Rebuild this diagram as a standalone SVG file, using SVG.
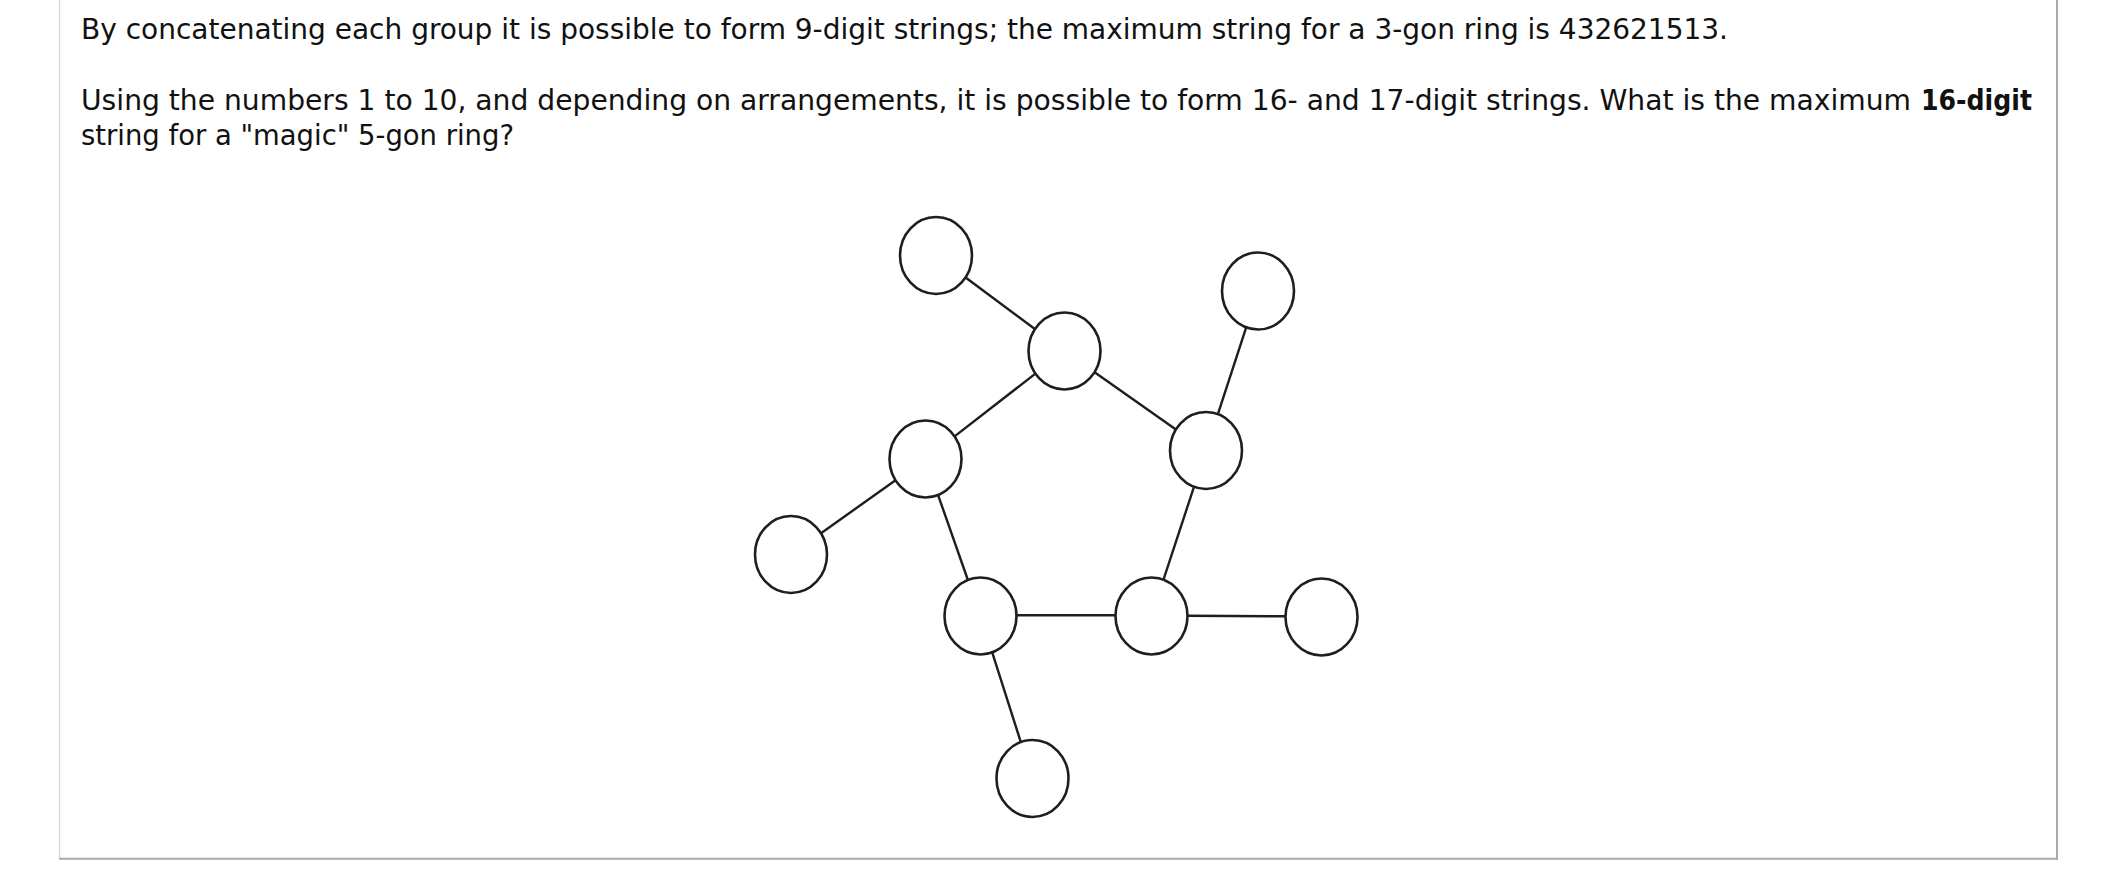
<svg xmlns="http://www.w3.org/2000/svg" width="2102" height="890" viewBox="0 0 2102 890">
<style>
.t{font-family:"DejaVu Sans Condensed","DejaVu Sans",sans-serif;font-stretch:condensed;font-size:28px;fill:#111}
.b{font-weight:bold}
.n{fill:#fff;stroke:#1e1e1e;stroke-width:2.6}
.e{stroke:#1e1e1e;stroke-width:2.4;fill:none;stroke-linecap:round}
</style>
<rect x="0" y="0" width="2102" height="890" fill="#fff"/>
<g id="frame">
<line x1="59.5" y1="0" x2="59.5" y2="858" stroke="#dadada" stroke-width="1.5"/>
<line x1="2057" y1="0" x2="2057" y2="859.8" stroke="#aaa" stroke-width="2"/>
<line x1="59" y1="858.8" x2="2058" y2="858.8" stroke="#aaa" stroke-width="2"/>
</g>
<g id="text">
<text class="t" x="81" y="39" textLength="1647" lengthAdjust="spacingAndGlyphs">By concatenating each group it is possible to form 9-digit strings; the maximum string for a 3-gon ring is 432621513.</text>
<text class="t" x="81" y="110" textLength="1830" lengthAdjust="spacingAndGlyphs">Using the numbers 1 to 10, and depending on arrangements, it is possible to form 16- and 17-digit strings. What is the maximum</text>
<text class="t b" x="1921" y="110" textLength="111" lengthAdjust="spacingAndGlyphs">16-digit</text>
<text class="t" x="81" y="145" textLength="433" lengthAdjust="spacingAndGlyphs">string for a "magic" 5-gon ring?</text>
</g>
<g id="connectors">
<line class="e" x1="965.6" y1="277.5" x2="1034.9" y2="329.0"/>
<line class="e" x1="1035.4" y1="373.6" x2="954.6" y2="436.4"/>
<line class="e" x1="1094.6" y1="372.2" x2="1175.9" y2="429.4"/>
<line class="e" x1="1217.9" y1="414.1" x2="1246.2" y2="327.4"/>
<line class="e" x1="1194.0" y1="486.8" x2="1163.5" y2="579.7"/>
<line class="e" x1="895.5" y1="480.3" x2="821.0" y2="533.2"/>
<line class="e" x1="938.1" y1="495.1" x2="967.9" y2="580.0"/>
<line class="e" x1="1016.5" y1="615.3" x2="1115.5" y2="615.3"/>
<line class="e" x1="1187.5" y1="615.8" x2="1285.5" y2="616.3"/>
<line class="e" x1="992.2" y1="652.4" x2="1020.8" y2="742.1"/>
</g>
<g id="node1"><ellipse class="n" cx="936" cy="255.5" rx="36" ry="38.5"/></g>
<g id="node2"><ellipse class="n" cx="1064.5" cy="351" rx="36" ry="38.5"/></g>
<g id="node3"><ellipse class="n" cx="1258" cy="291" rx="36" ry="38.5"/></g>
<g id="node4"><ellipse class="n" cx="1206" cy="450.5" rx="36" ry="38.5"/></g>
<g id="node5"><ellipse class="n" cx="925.5" cy="459" rx="36" ry="38.5"/></g>
<g id="node6"><ellipse class="n" cx="791" cy="554.5" rx="36" ry="38.5"/></g>
<g id="node7"><ellipse class="n" cx="980.5" cy="616" rx="36" ry="38.5"/></g>
<g id="node8"><ellipse class="n" cx="1151.5" cy="616" rx="36" ry="38.5"/></g>
<g id="node9"><ellipse class="n" cx="1321.5" cy="617" rx="36" ry="38.5"/></g>
<g id="node10"><ellipse class="n" cx="1032.5" cy="778.5" rx="36" ry="38.5"/></g>
</svg>
